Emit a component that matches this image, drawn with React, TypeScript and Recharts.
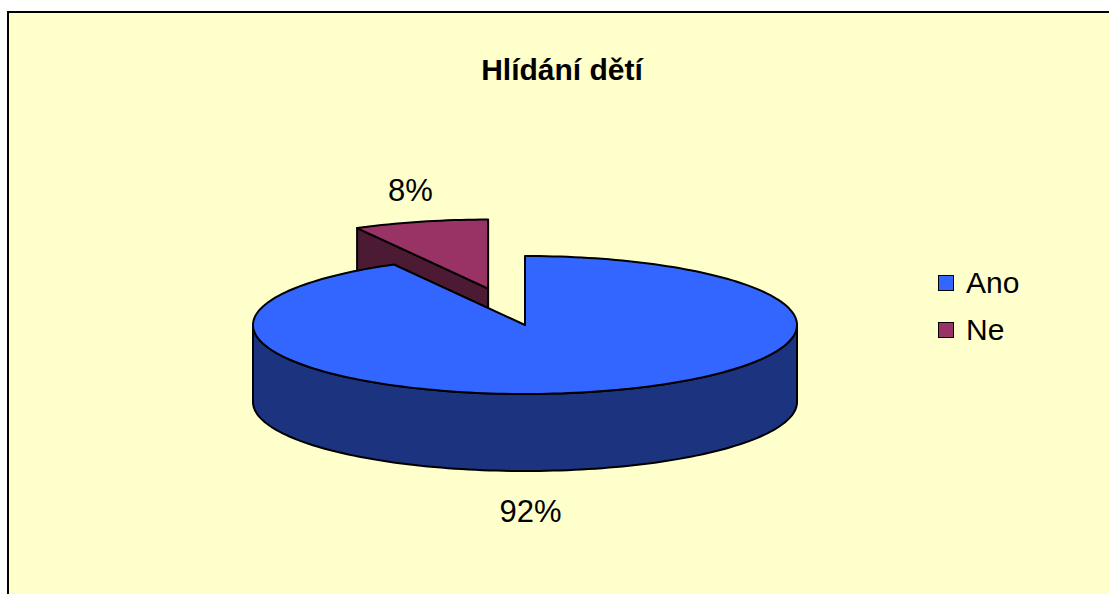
import React from 'react';
import { PieChart, Pie, Cell, Legend } from 'recharts';

const categories = ['Ano', 'Ne'];
const values = [92, 8];
const topColors = ['#3366FF', '#993366'];
const sideColors = ['#1C3380', '#4D1A33'];
const explodeFractions = [0, 0.545];

// Drawn counter-clockwise from 12 o'clock, back slice first, so the exploded "Ne" slice sits behind "Ano".
const data = categories.map((name, i) => ({ name, value: values[i] })).reverse();

const RAD = Math.PI / 180;
const FLAT = 69 / 272;
const DEPTH = 77;
const FONT = '"Liberation Sans", Arial, sans-serif';
const LABEL_NUDGE: Record<string, [number, number]> = { Ano: [-62, 43], Ne: [-10, -31] };

type Pt = [number, number];

function arcPoints(ox: number, oy: number, rx: number, ry: number, a0: number, a1: number, z: number): Pt[] {
  const n = Math.max(2, Math.ceil(Math.abs(a1 - a0) / 1.5));
  const pts: Pt[] = [];
  for (let i = 0; i <= n; i++) {
    const a = a0 + ((a1 - a0) * i) / n;
    pts.push([ox + rx * Math.cos(a * RAD), oy - ry * Math.sin(a * RAD) + z]);
  }
  return pts;
}

const toPath = (pts: Pt[]) => 'M' + pts.map((p) => p[0].toFixed(2) + ',' + p[1].toFixed(2)).join('L') + 'Z';

function catIndex(props: any): number {
  const name = props.name ?? props.payload?.name;
  const i = categories.indexOf(name);
  return i < 0 ? 0 : i;
}

function geometry(props: any) {
  const { cx, cy, outerRadius, startAngle, endAngle } = props;
  const ci = catIndex(props);
  const lo = Math.min(startAngle, endAngle);
  const hi = Math.max(startAngle, endAngle);
  const mid = (lo + hi) / 2;
  const rx = outerRadius;
  const ry = outerRadius * FLAT;
  const e = explodeFractions[ci] || 0;
  const ox = cx + e * rx * Math.cos(mid * RAD);
  const oy = cy - e * ry * Math.sin(mid * RAD);
  return { ci, lo, hi, mid, rx, ry, ox, oy };
}

function Slice3D(props: any) {
  const { ci, lo, hi, rx, ry, ox, oy } = geometry(props);
  const pt = (a: number, z: number): Pt => [ox + rx * Math.cos(a * RAD), oy - ry * Math.sin(a * RAD) + z];
  const quad = (a: number): Pt[] => [[ox, oy], pt(a, 0), pt(a, DEPTH), [ox, oy + DEPTH]];
  const walls: Pt[][] = [];
  if (Math.cos(hi * RAD) < -1e-6) walls.push(quad(hi));
  if (Math.cos(lo * RAD) > 1e-6) walls.push(quad(lo));
  for (let k = -2; k <= 2; k++) {
    const s = Math.max(lo, 180 + 360 * k);
    const t = Math.min(hi, 360 + 360 * k);
    if (t > s) {
      walls.push([...arcPoints(ox, oy, rx, ry, s, t, 0), ...arcPoints(ox, oy, rx, ry, t, s, DEPTH)]);
    }
  }
  const top: Pt[] = [[ox, oy], ...arcPoints(ox, oy, rx, ry, hi, lo, 0)];
  return (
    <g>
      {walls.map((w, i) => (
        <path key={i} d={toPath(w)} fill={sideColors[ci]} stroke="#000" strokeWidth={2} strokeLinejoin="round" />
      ))}
      <path d={toPath(top)} fill={topColors[ci]} stroke="#000" strokeWidth={2} strokeLinejoin="round" />
    </g>
  );
}

function renderLabel(props: any) {
  const { percent } = props;
  const { ci, mid, rx, ry, ox, oy } = geometry(props);
  const nudge = LABEL_NUDGE[categories[ci]];
  const down = Math.sin(mid * RAD) < 0 ? DEPTH : 0;
  const x = ox + rx * Math.cos(mid * RAD) + nudge[0];
  const y = oy - ry * Math.sin(mid * RAD) + down + nudge[1];
  return (
    <text x={x} y={y} textAnchor="middle" dominantBaseline="central" fontFamily={FONT} fontSize={31} fill="#000">
      {`${Math.round(percent * 100)}%`}
    </text>
  );
}

function LegendContent(props: any) {
  const payload = [...(props.payload || [])].sort(
    (a: any, b: any) => categories.indexOf(a.value) - categories.indexOf(b.value)
  );
  return (
    <div style={{ fontFamily: FONT, fontSize: 30, color: '#000' }}>
      {payload.map((entry: any, i: number) => (
        <div key={i} style={{ display: 'flex', alignItems: 'center', height: 47 }}>
          <div
            style={{
              width: 14,
              height: 14,
              background: topColors[categories.indexOf(entry.value)],
              border: '1.5px solid #000',
              marginRight: 12,
            }}
          />
          <span>{entry.value}</span>
        </div>
      ))}
    </div>
  );
}

export default function App() {
  return (
    <div style={{ position: 'absolute', left: 0, top: 0, width: 1109, height: 594, background: '#fff', overflow: 'hidden' }}>
      <div
        style={{
          position: 'absolute',
          left: 7,
          top: 11,
          width: 1120,
          height: 600,
          background: '#FFFFCC',
          borderLeft: '2px solid #000',
          borderTop: '2px solid #000',
        }}
      />
      <div style={{ position: 'absolute', left: 0, top: 0 }}>
        <PieChart width={1109} height={594} margin={{ top: 0, right: 0, bottom: 0, left: 0 }}>
          <text x={562} y={69} textAnchor="middle" dominantBaseline="central" fontFamily={FONT} fontWeight="bold" fontSize={30} fill="#000">
            Hlídání dětí
          </text>
          <Pie
            data={data}
            dataKey="value"
            nameKey="name"
            cx={525}
            cy={325}
            outerRadius={272}
            startAngle={90}
            endAngle={450}
            shape={Slice3D}
            label={renderLabel}
            labelLine={false}
            isAnimationActive={false}
          >
            {data.map((d) => (
              <Cell key={d.name} fill={topColors[categories.indexOf(d.name)]} />
            ))}
          </Pie>
          <Legend
            layout="vertical"
            align="right"
            verticalAlign="middle"
            content={LegendContent}
            wrapperStyle={{ position: 'absolute', left: 938, top: 259, right: 'auto', bottom: 'auto', width: 140 }}
          />
        </PieChart>
      </div>
    </div>
  );
}
